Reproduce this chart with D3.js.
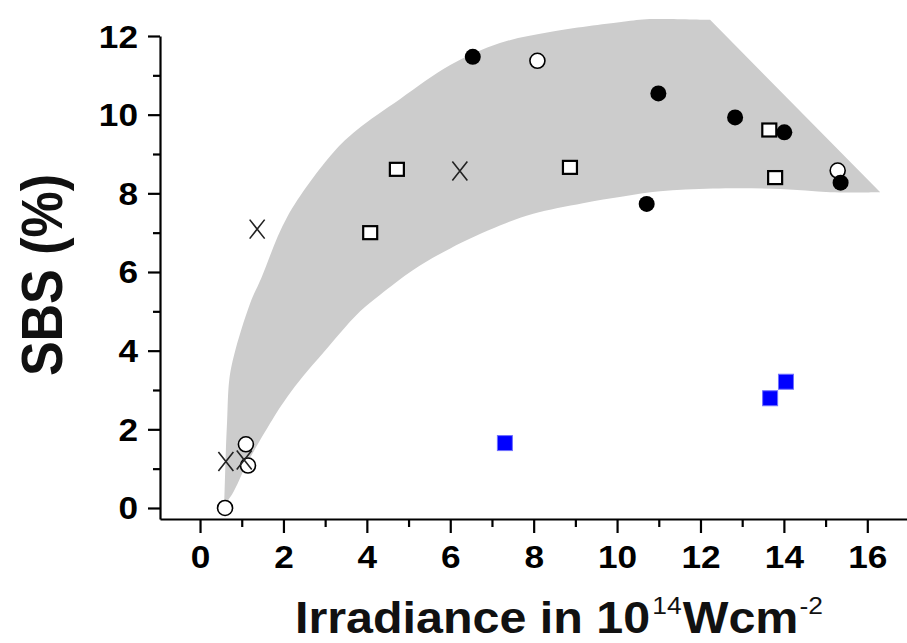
<!DOCTYPE html>
<html>
<head>
<meta charset="utf-8">
<script src="https://cdn.jsdelivr.net/npm/d3@7"></script>
<style>
  html, body { margin: 0; padding: 0; background: white; }
</style>
</head>
<body>
<div id="container"></div>
<script>
// ---- data ----
let filledX = [6.54, 10.99, 12.83, 14.01, 15.36, 10.71];
let filledY = [11.47, 10.54, 9.93, 9.55, 8.27, 7.73];

let openCircX = [0.60, 1.10, 1.15, 8.09, 15.29];
let openCircY = [0.00, 1.62, 1.08, 11.37, 8.58];

let openSqX = [4.08, 4.72, 8.87, 13.65, 13.79];
let openSqY = [7.00, 8.61, 8.66, 9.61, 8.40];

let crossX = [0.62, 1.06, 1.37, 6.23];
let crossY = [1.18, 1.22, 7.09, 8.57];

let blueX = [7.31, 13.67, 14.05];
let blueY = [1.65, 2.79, 3.21];

// grey band: curved upper edge left->right (ends at the corner),
// then a straight run down to the tip, then lower edge right->left
let bandUpX = [0.58, 0.62, 0.65, 0.70, 0.82, 1.20, 1.47, 2.09, 3.19, 3.76, 4.80, 6.00, 7.19, 8.39, 10.14, 10.79, 12.23];
let bandUpY = [0.08, 1.47, 2.24, 3.25, 3.90, 5.20, 5.85, 7.40, 9.03, 9.61, 10.40, 11.26, 11.82, 12.10, 12.36, 12.43, 12.41];
let bandLoX = [16.31, 15.11, 13.91, 12.30, 11.03, 10.14, 9.18, 7.99, 7.19, 6.00, 5.11, 4.32, 3.84, 3.36, 2.95, 2.47, 2.09, 1.73, 1.13, 0.77, 0.58];
let bandLoY = [8.03, 8.03, 8.11, 8.12, 8.05, 7.92, 7.75, 7.48, 7.18, 6.60, 6.05, 5.42, 5.00, 4.45, 3.94, 3.35, 2.82, 2.24, 1.14, 0.35, 0.08];

let xMajor = [0, 2, 4, 6, 8, 10, 12, 14, 16];
let xMinor = [1, 3, 5, 7, 9, 11, 13, 15];
let yMajor = [0, 2, 4, 6, 8, 10, 12];
let yMinor = [1, 3, 5, 7, 9, 11];

let w = 907,
    h = 643,
    sx = 1.1;   // the original figure is stretched a bit sideways

let viz = d3.select('#container')
  .append('svg')
    .attr('width', w)
    .attr('height', h)
    .style('background', 'white');

let x = d3.scaleLinear().domain([-0.96, 17]).range([160, 909]);
let y = d3.scaleLinear().domain([-0.28, 12]).range([519, 36]);

function pts(xs, ys) {
    return xs.map((d, i) => [d, ys[i]]);
}

function main() {
    // band
    let line = d3.line()
        .x(d => x(d[0]))
        .y(d => y(d[1]))
        .curve(d3.curveCatmullRom.alpha(0.5));
    let upD = line(pts(bandUpX, bandUpY));
    let loD = line(pts(bandLoX, bandLoY)).replace(/^M/, 'L');
    viz.append('path')
        .attr('d', upD + loD + 'Z')
        .attr('fill', '#cccccc');

    // axes
    let font = '"Liberation Sans", Arial, sans-serif';

    let xAxis = viz.append('g')
        .attr('transform', 'translate(0,519)')
        .call(d3.axisBottom(x).tickValues(xMajor).tickSize(14).tickSizeOuter(0));
    viz.append('g')
        .attr('transform', 'translate(0,519)')
        .call(d3.axisBottom(x).tickValues(xMinor).tickSize(8).tickSizeOuter(0).tickFormat(''))
        .select('.domain').remove();

    let yAxis = viz.append('g')
        .attr('transform', 'translate(160,0)')
        .call(d3.axisLeft(y).tickValues(yMajor).tickSize(12).tickSizeOuter(0));
    viz.append('g')
        .attr('transform', 'translate(160,0)')
        .call(d3.axisLeft(y).tickValues(yMinor).tickSize(7).tickSizeOuter(0).tickFormat(''))
        .select('.domain').remove();

    viz.selectAll('.domain, .tick line')
        .attr('stroke', 'black')
        .attr('stroke-width', 2.2);

    xAxis.selectAll('.tick text')
        .attr('y', null)
        .attr('dy', null)
        .attr('transform', 'translate(0,49) scale(' + sx + ',1)')
        .attr('font-family', font)
        .attr('font-weight', 'bold')
        .attr('font-size', 32)
        .attr('fill', 'black');

    yAxis.selectAll('.tick text')
        .attr('x', null)
        .attr('dy', null)
        .attr('text-anchor', 'end')
        .attr('transform', 'translate(-22,11) scale(' + sx + ',1)')
        .attr('font-family', font)
        .attr('font-weight', 'bold')
        .attr('font-size', 32)
        .attr('fill', 'black');

    // axis titles
    let xt = viz.append('text')
        .attr('transform', 'translate(295,633) scale(' + sx + ',1)')
        .attr('font-family', font)
        .attr('font-weight', 'bold')
        .attr('font-size', 44)
        .attr('fill', '#111');
    xt.append('tspan').text('Irradiance in 10');
    xt.append('tspan').attr('font-size', 24).attr('font-weight', 'normal').attr('dy', -19).attr('dx', 2).text('14');
    xt.append('tspan').attr('dy', 19).attr('dx', 1).text('Wcm');
    xt.append('tspan').attr('font-size', 24).attr('font-weight', 'normal').attr('dy', -19).attr('dx', 1).text('-2');

    viz.append('text')
        .attr('transform', 'translate(62,275) scale(' + sx + ',1) rotate(-90)')
        .attr('text-anchor', 'middle')
        .attr('font-family', font)
        .attr('font-weight', 'bold')
        .attr('font-size', 52)
        .attr('fill', '#111')
        .text('SBS (%)');

    // markers
    viz.append('g').selectAll('rect')
        .data(pts(openSqX, openSqY))
        .enter().append('rect')
          .attr('x', d => x(d[0]) - 7)
          .attr('y', d => y(d[1]) - 6.5)
          .attr('width', 14)
          .attr('height', 13)
          .attr('fill', 'white')
          .attr('stroke', 'black')
          .attr('stroke-width', 2.2);

    viz.append('g').selectAll('circle')
        .data(pts(openCircX, openCircY))
        .enter().append('circle')
          .attr('cx', d => x(d[0]))
          .attr('cy', d => y(d[1]))
          .attr('r', 7.5)
          .attr('fill', 'white')
          .attr('stroke', 'black')
          .attr('stroke-width', 1.6);

    viz.append('g').selectAll('circle')
        .data(pts(filledX, filledY))
        .enter().append('circle')
          .attr('cx', d => x(d[0]))
          .attr('cy', d => y(d[1]))
          .attr('r', 8)
          .attr('fill', 'black');

    viz.append('g').selectAll('path')
        .data(pts(crossX, crossY))
        .enter().append('path')
          .attr('transform', d => 'translate(' + x(d[0]) + ',' + y(d[1]) + ')')
          .attr('d', 'M-7.5,-9.5L7.5,9.5M-7.5,9.5L7.5,-9.5')
          .attr('stroke', '#222')
          .attr('stroke-width', 1.6)
          .attr('fill', 'none');

    viz.append('g').selectAll('rect')
        .data(pts(blueX, blueY))
        .enter().append('rect')
          .attr('x', d => x(d[0]) - 7.5)
          .attr('y', d => y(d[1]) - 7.5)
          .attr('width', 15)
          .attr('height', 15)
          .attr('fill', '#0000ff')
          .attr('stroke', '#7070ff')
          .attr('stroke-width', 1);
}

main();
</script>
</body>
</html>
